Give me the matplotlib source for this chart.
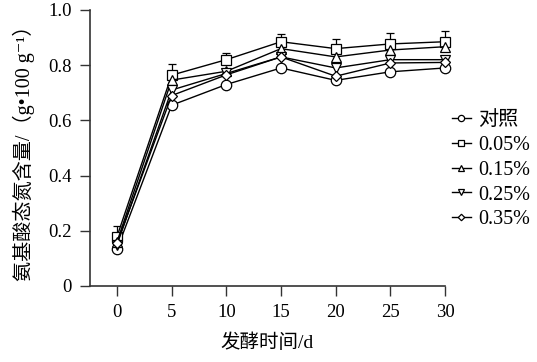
import numpy as np
import matplotlib
matplotlib.use("Agg")
import matplotlib.pyplot as plt

plt.rcParams['font.family'] = ['Liberation Serif', 'Noto Sans CJK SC', 'DejaVu Sans']

days = [0, 5, 10, 15, 20, 25, 30]
labels = ["对照", "0.05%", "0.15%", "0.25%", "0.35%"]
markers = ["o", "s", "^", "v", "D"]
ctrl = [0.133, 0.655, 0.730, 0.790, 0.745, 0.776, 0.790]
c005 = [0.179, 0.764, 0.820, 0.885, 0.860, 0.877, 0.885]
c015 = [0.160, 0.746, 0.778, 0.860, 0.830, 0.855, 0.867]
c025 = [0.150, 0.710, 0.770, 0.830, 0.790, 0.820, 0.820]
c035 = [0.155, 0.690, 0.765, 0.830, 0.760, 0.808, 0.810]
err005 = [0.040, 0.040, 0.025, 0.027, 0.034, 0.038, 0.040]
series = [ctrl, c005, c015, c025, c035]

fig = plt.figure(figsize=(5.37, 3.62), dpi=100)
ax = fig.add_axes([0.1676, 0.21, 0.6611, 0.7624])

for i, (vals, lab, mk) in enumerate(zip(series, labels, markers)):
    ms = 7.5 if mk != "D" else 5.5
    ax.plot(days, vals, color="black", lw=1, marker=mk, ms=ms, mfc="white",
            mec="black", mew=0.9, label=lab, zorder=3 + i, clip_on=False)
eb = ax.errorbar(days, c005, yerr=[np.zeros(len(err005)), err005], fmt="none",
                 ecolor="black", elinewidth=0.9, capsize=3, capthick=0.9, zorder=2)
for art in eb.lines[1] + eb.lines[2]:
    art.set_clip_on(False)

ax.set_xlim(-2.47, 30)
ax.set_ylim(0, 1.0)
ax.set_xticks(days)
ax.set_yticks([0, 0.2, 0.4, 0.6, 0.8, 1.0])
ax.set_yticklabels(["0", "0.2", "0.4", "0.6", "0.8", "1.0"])
ax.tick_params(direction="out", length=7, width=1, labelsize=13.5,
               colors="#333333", pad=6)
ax.tick_params(labelcolor="black")
for s in ["top", "right"]:
    ax.spines[s].set_visible(False)
for s in ["left", "bottom"]:
    ax.spines[s].set_linewidth(1.2)
    ax.spines[s].set_color("#333333")

ax.set_xlabel("发酵时间/d", fontsize=14, labelpad=9)
ax.set_ylabel("氨基酸态氮含量/（g•100 g⁻¹）", fontsize=14.5, labelpad=10)

handles, labs = ax.get_legend_handles_labels()
leg = fig.legend(handles, labs, loc="upper left", bbox_to_anchor=(0.826, 0.715),
                 frameon=False, fontsize=14.5, handlelength=0.95, handletextpad=0.35,
                 labelspacing=0.28, markerscale=0.6, borderaxespad=0)

fig.savefig("out.png", dpi=100)
